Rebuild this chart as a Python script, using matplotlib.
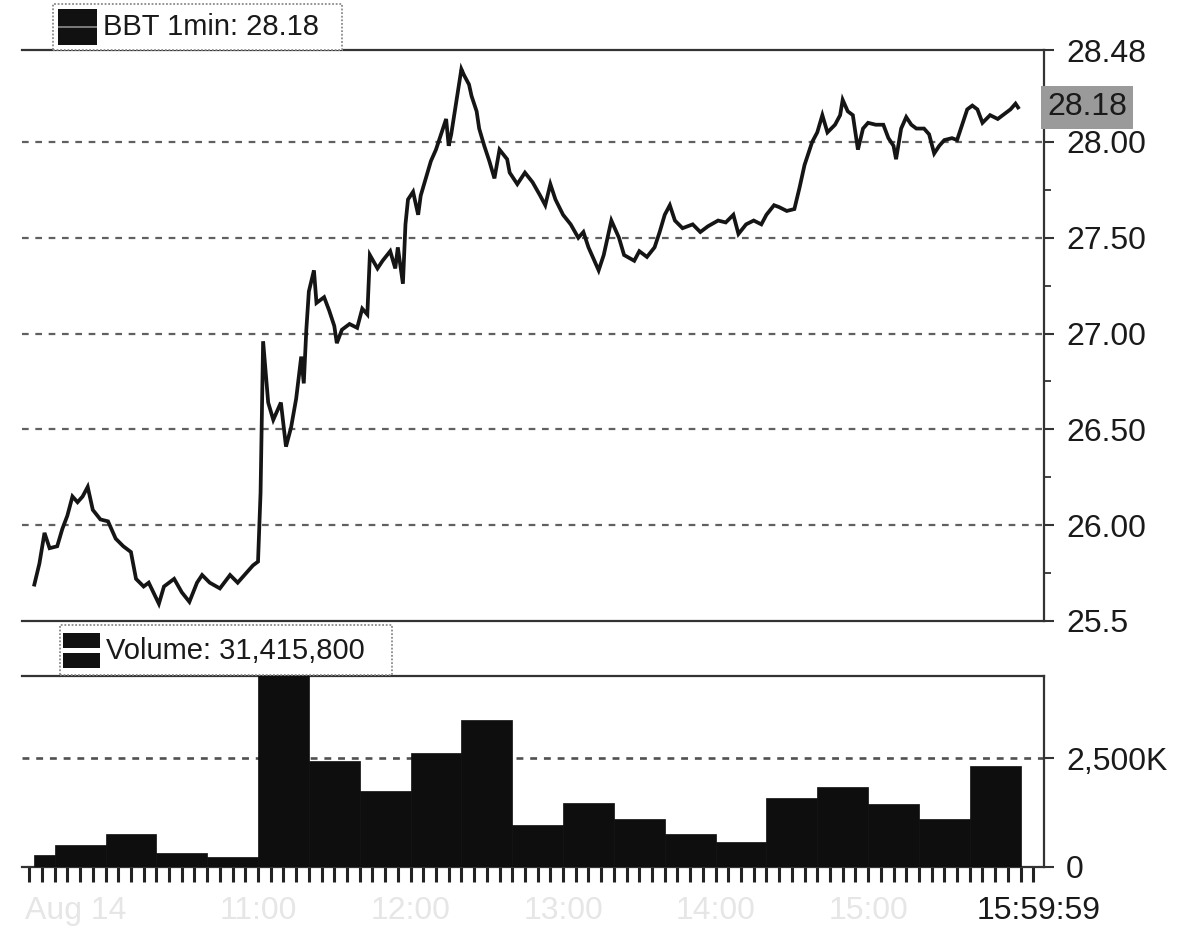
import matplotlib
matplotlib.use("Agg")
import matplotlib.pyplot as plt
import matplotlib.transforms as mtransforms
from matplotlib.patches import Rectangle
from matplotlib.ticker import FixedLocator, MultipleLocator

plt.rcParams['font.family'] = ['Liberation Sans', 'DejaVu Sans']

# ---------------- data ----------------
# minutes after 09:30 on Aug 14, and 1-min close prices of BBT
minutes = [2, 4, 6, 8, 11, 13, 15, 17, 19, 21, 23, 25, 28, 31, 34, 37, 40, 42, 45, 47,
           51, 53, 57, 60, 63, 66, 68, 71, 75, 79, 82, 86, 88, 90, 91, 92, 94, 96, 99, 101,
           103, 105, 107, 108, 109, 110, 112, 113, 116, 118, 120, 121, 123, 126, 129, 131, 133, 134, 137, 139,
           142, 144, 145, 147, 148, 149, 151, 153, 154, 156, 158, 160, 162, 164, 165, 166, 168, 170, 171, 173,
           174, 176, 177, 179, 181, 183, 185, 188, 189, 192, 195, 198, 201, 203, 205, 207, 210, 213, 216, 218,
           220, 222, 224, 226, 229, 231, 232, 234, 238, 240, 243, 246, 248, 250, 252, 254, 257, 261, 264, 267,
           271, 274, 277, 279, 282, 285, 288, 290, 293, 295, 298, 301, 303, 305, 308, 310, 312, 314, 317, 319,
           320, 322, 324, 326, 328, 330, 333, 336, 338, 340, 341, 343, 345, 347, 349, 352, 354, 356, 358, 360,
           363, 365, 367, 369, 371, 373, 375, 378, 381, 383, 386, 388, 389]
prices = [25.69, 25.80, 25.96, 25.88, 25.89, 25.98, 26.05, 26.15, 26.12, 26.15, 26.20, 26.08, 26.03, 26.02, 25.93, 25.89, 25.86, 25.72, 25.68, 25.70,
          25.59, 25.68, 25.72, 25.65, 25.60, 25.70, 25.74, 25.70, 25.67, 25.74, 25.70, 25.76, 25.79, 25.81, 26.17, 26.96, 26.64, 26.55, 26.64, 26.41,
          26.51, 26.66, 26.88, 26.74, 27.02, 27.22, 27.33, 27.16, 27.19, 27.12, 27.04, 26.95, 27.02, 27.05, 27.03, 27.13, 27.10, 27.41, 27.34, 27.38,
          27.43, 27.34, 27.45, 27.26, 27.57, 27.70, 27.74, 27.62, 27.72, 27.81, 27.90, 27.96, 28.04, 28.12, 27.98, 28.04, 28.21, 28.38, 28.35, 28.30,
          28.24, 28.16, 28.07, 27.98, 27.90, 27.81, 27.96, 27.91, 27.84, 27.78, 27.84, 27.79, 27.72, 27.67, 27.78, 27.70, 27.62, 27.57, 27.50, 27.53,
          27.45, 27.39, 27.33, 27.41, 27.59, 27.53, 27.50, 27.41, 27.38, 27.43, 27.40, 27.45, 27.53, 27.62, 27.67, 27.59, 27.55, 27.57, 27.53, 27.56,
          27.59, 27.58, 27.62, 27.52, 27.57, 27.59, 27.57, 27.62, 27.67, 27.66, 27.64, 27.65, 27.76, 27.88, 28.00, 28.05, 28.14, 28.05, 28.09, 28.14,
          28.22, 28.16, 28.14, 27.96, 28.07, 28.10, 28.09, 28.09, 28.02, 27.98, 27.91, 28.07, 28.13, 28.09, 28.07, 28.07, 28.04, 27.94, 27.98, 28.01,
          28.02, 28.01, 28.09, 28.17, 28.19, 28.17, 28.10, 28.14, 28.12, 28.14, 28.17, 28.20, 28.18]

# 20-minute volume bars (start / end in minutes after 09:30, volume in thousands)
vol_start = [2, 10, 30, 50, 70, 90, 110, 130, 150, 170, 190, 210, 230, 250, 270, 290, 310, 330, 350, 370]
vol_end = [10, 30, 50, 70, 90, 110, 130, 150, 170, 190, 210, 230, 250, 270, 290, 310, 330, 350, 370, 390]
volumes_k = [273, 500, 750, 318, 227, 5960, 2432, 1750, 2614, 3386, 977, 1477, 1114, 750, 568, 1591, 1841, 1455, 1114, 2318]

price_ticks = [25.5, 26.0, 26.5, 27.0, 27.5, 28.0, 28.48]
price_tick_labels = ["25.5", "26.00", "26.50", "27.00", "27.50", "28.00", "28.48"]
price_grid = [26.0, 26.5, 27.0, 27.5, 28.0]
vol_ticks = [0, 2500]
vol_tick_labels = ["0", "2,500K"]
time_ticks = [0, 90, 150, 210, 270, 330, 390]
time_labels = ["Aug 14", "11:00", "12:00", "13:00", "14:00", "15:00", "15:59:59"]

# ---------------- layout ----------------
W, H = 1178, 934
fig = plt.figure(figsize=(W / 100, H / 100), dpi=100)
fig.patch.set_facecolor('white')


def rect(l, t, r, b):
    return [l / W, 1 - b / H, (r - l) / W, (b - t) / H]


ax = fig.add_axes(rect(22, 50, 1044, 621))
axv = fig.add_axes(rect(22, 676, 1044, 867))

XMIN, XMAX = -2.85, 399.2
FS = 23
GRID_KW = dict(color='#606060', lw=1.6, linestyle=(0, (3.0, 3.0)), zorder=1)

# ---------------- price panel ----------------
ax.plot(minutes, prices, color='#151515', lw=2.7, zorder=3, solid_joinstyle='miter')
ax.set_xlim(XMIN, XMAX)
ax.set_ylim(25.5, 28.48)
for g in price_grid:
    ax.axhline(g, **GRID_KW)
ax.spines['left'].set_visible(False)
for s in ['top', 'bottom', 'right']:
    ax.spines[s].set_color('#333333')
    ax.spines[s].set_linewidth(1.6)
ax.set_xticks([])
ax.yaxis.tick_right()
ax.set_yticks(price_ticks)
ax.set_yticklabels(price_tick_labels)
ax.yaxis.set_minor_locator(FixedLocator([25.75, 26.25, 26.75, 27.25, 27.75, 28.25]))
ax.tick_params(axis='y', which='major', direction='out', length=7, width=1.5,
               color='#333333', labelsize=FS, pad=9, labelcolor='#1a1a1a')
ax.tick_params(axis='y', which='minor', direction='out', length=5, width=1.3, color='#333333')

# last price box
trans = mtransforms.blended_transform_factory(ax.transAxes, ax.transData)
off = mtransforms.ScaledTranslation(3 / 100, 0, fig.dpi_scale_trans)
ax.text(1.0, prices[-1], f"{prices[-1]:.2f}", transform=trans + off, ha='left', va='center',
        fontsize=FS, color='#1a1a1a', zorder=6, clip_on=False,
        bbox=dict(boxstyle='square,pad=0.2', fc='#9a9a9a', ec='none'))

# ---------------- volume panel ----------------
widths = [e - s for s, e in zip(vol_start, vol_end)]
axv.bar(vol_start, volumes_k, width=widths, align='edge', color='#0e0e0e', edgecolor='#0e0e0e',
        lw=0.5, zorder=3)
axv.set_xlim(XMIN, XMAX)
axv.set_ylim(0, 4395)
axv.axhline(2500, color='#505050', lw=1.9, linestyle=(0, (2.6, 2.6)), zorder=1)
axv.spines['left'].set_visible(False)
for s in ['top', 'bottom', 'right']:
    axv.spines[s].set_color('#333333')
    axv.spines[s].set_linewidth(1.6)
axv.yaxis.tick_right()
axv.set_yticks(vol_ticks)
axv.set_yticklabels(vol_tick_labels)
axv.tick_params(axis='y', direction='out', length=7, width=1.5, color='#333333',
                labelsize=FS, pad=9, labelcolor='#1a1a1a')

axv.set_xticks(time_ticks)
axv.set_xticklabels(time_labels)
axv.xaxis.set_minor_locator(MultipleLocator(5))
axv.tick_params(axis='x', which='both', direction='out', length=11, width=2.2, color='#222222')
axv.tick_params(axis='x', which='major', labelsize=FS, pad=10, labelcolor='#e6e6e6')
labels = axv.get_xticklabels()
labels[0].set_ha('left')
labels[0].set_transform(labels[0].get_transform() + mtransforms.ScaledTranslation(-4 / 100, 0, fig.dpi_scale_trans))
labels[-1].set_color('#1a1a1a')
labels[-1].set_transform(labels[-1].get_transform() + mtransforms.ScaledTranslation(18 / 100, 0, fig.dpi_scale_trans))


# ---------------- legend boxes ----------------
def fig_rect(x0, y0, x1, y1, **kw):
    r = Rectangle((x0 / W, 1 - y1 / H), (x1 - x0) / W, (y1 - y0) / H, transform=fig.transFigure, **kw)
    fig.patches.append(r)
    return r


fig_rect(53, 4, 342, 50, facecolor='white', edgecolor='#8a8a8a', lw=1.3, linestyle=(0, (1, 1)), zorder=5)
fig_rect(58, 9, 97, 45, facecolor='#111111', edgecolor='none', zorder=6)
fig_rect(58, 26, 97, 28, facecolor='#777777', edgecolor='none', zorder=7)
fig.text(103 / W, 1 - 27 / H, "BBT 1min: 28.18", ha='left', va='center', fontsize=21,
         color='#1a1a1a', zorder=8)

fig_rect(60, 625, 392, 675, facecolor='white', edgecolor='#8a8a8a', lw=1.3, linestyle=(0, (1, 1)), zorder=5)
fig_rect(63, 633, 100, 648, facecolor='#111111', edgecolor='none', zorder=6)
fig_rect(63, 653, 100, 668, facecolor='#111111', edgecolor='none', zorder=6)
fig.text(106 / W, 1 - 651 / H, "Volume: 31,415,800", ha='left', va='center', fontsize=21,
         color='#1a1a1a', zorder=8)

fig.savefig("out.png", dpi=100, facecolor='white')
